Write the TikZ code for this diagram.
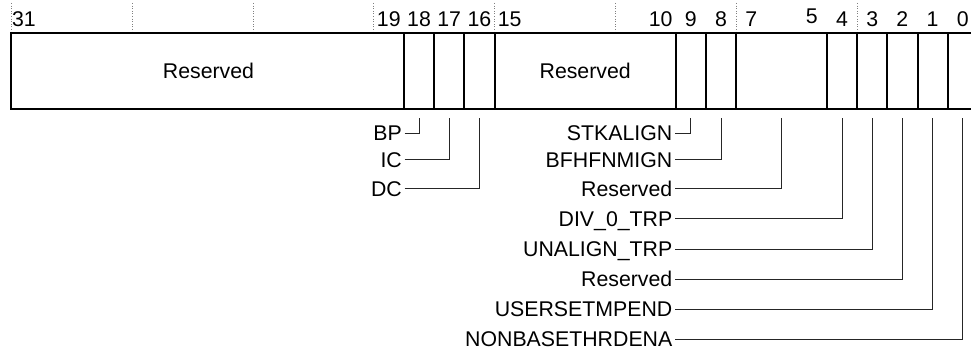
\documentclass[tikz,border=0pt]{standalone}
\usepackage{fontspec}
\setmainfont{Liberation Sans}
\begin{document}
\begin{tikzpicture}[
			x=1pt, y=1pt,
			font=\fontsize{21.3}{25}\selectfont,
			regbox/.style={line width=2pt, black},
			tick/.style={gray, dotted, line width=0.6pt},
			bitnum/.style={anchor=base, inner sep=0pt},
			fieldlabel/.style={inner sep=0pt, text height=15pt, text depth=0pt},
			flaglabel/.style={anchor=east, inner sep=2.5pt, text height=15pt, text depth=0pt},
			conn/.style={line width=1pt, black!85},
		]
		\clip (0, 0) rectangle (971, 350);

		% dotted ticks every 4 bits
		\draw[tick] (11, 347)    -- (11, 317);
		\draw[tick] (131.9, 347) -- (131.9, 317);
		\draw[tick] (252.8, 347) -- (252.8, 317);
		\draw[tick] (373.6, 347) -- (373.6, 317);
		\draw[tick] (494.5, 347) -- (494.5, 317);
		\draw[tick] (615.4, 347) -- (615.4, 317);
		\draw[tick] (736.2, 347) -- (736.2, 317);
		\draw[tick] (857.1, 347) -- (857.1, 317);

		% bit numbers
		\node[bitnum] (b31) at (24, 323)    {31};
		\node[bitnum] (b19) at (388.8, 323) {19};
		\node[bitnum] (b18) at (419, 323)   {18};
		\node[bitnum] (b17) at (449.2, 323) {17};
		\node[bitnum] (b16) at (479.4, 323) {16};
		\node[bitnum] (b15) at (509.6, 323) {15};
		\node[bitnum] (b10) at (660.7, 323) {10};
		\node[bitnum] (b9)  at (690.9, 323) {9};
		\node[bitnum] (b8)  at (721.1, 323) {8};
		\node[bitnum] (b7)  at (751.3, 323) {7};
		\node[bitnum] (b5)  at (811.8, 326) {5};
		\node[bitnum] (b4)  at (842, 323)   {4};
		\node[bitnum] (b3)  at (872.2, 323) {3};
		\node[bitnum] (b2)  at (902.4, 323) {2};
		\node[bitnum] (b1)  at (932.6, 323) {1};
		\node[bitnum] (b0)  at (962.8, 323) {0};

		% register outline and field dividers
		\draw[regbox] (980, 317) -- (11, 317) -- (11, 241) -- (980, 241);
		\draw[regbox] (403.9, 317) -- (403.9, 241);
		\draw[regbox] (434.1, 317) -- (434.1, 241);
		\draw[regbox] (464.3, 317) -- (464.3, 241);
		\draw[regbox] (494.5, 317) -- (494.5, 241);
		\draw[regbox] (675.8, 317) -- (675.8, 241);
		\draw[regbox] (706, 317)   -- (706, 241);
		\draw[regbox] (736.2, 317) -- (736.2, 241);
		\draw[regbox] (826.9, 317) -- (826.9, 241);
		\draw[regbox] (857.1, 317) -- (857.1, 241);
		\draw[regbox] (887.3, 317) -- (887.3, 241);
		\draw[regbox] (917.5, 317) -- (917.5, 241);
		\draw[regbox] (947.7, 317) -- (947.7, 241);

		\node[fieldlabel] (res31) at (208.5, 279) {Reserved};
		\node[fieldlabel] (res15) at (585.2, 279) {Reserved};

		% connector tops below the register
		\coordinate (t18) at (419, 232);
		\coordinate (t17) at (449.2, 232);
		\coordinate (t16) at (479.4, 232);
		\coordinate (t9)  at (690.9, 232);
		\coordinate (t8)  at (721.1, 232);
		\coordinate (t7)  at (781.5, 232);
		\coordinate (t4)  at (842, 232);
		\coordinate (t3)  at (872.2, 232);
		\coordinate (t2)  at (902.4, 232);
		\coordinate (t1)  at (932.6, 232);
		\coordinate (t0)  at (962.8, 232);

		% flag names
		\node[flaglabel] (bp) at (404.5, 216.7) {BP};
		\node[flaglabel] (ic) at (404.5, 190)   {IC};
		\node[flaglabel] (dc) at (404.5, 161)   {DC};
		\node[flaglabel] (stkalign)  at (675, 216.7) {STKALIGN};
		\node[flaglabel] (bfhfnmign) at (675, 190)   {BFHFNMIGN};
		\node[flaglabel] (res7)      at (675, 161)   {Reserved};
		\node[flaglabel] (div0)      at (675, 131)   {DIV\_0\_TRP};
		\node[flaglabel] (unalign)   at (675, 100.7) {UNALIGN\_TRP};
		\node[flaglabel] (res2)      at (675, 70.7)  {Reserved};
		\node[flaglabel] (usersetm)  at (675, 40.7)  {USERSETMPEND};
		\node[flaglabel] (nonbase)   at (675, 10.7)  {NONBASETHRDENA};

		\draw[conn] (bp.east) -| (t18);
		\draw[conn] (ic.east) -| (t17);
		\draw[conn] (dc.east) -| (t16);
		\draw[conn] (stkalign.east) -| (t9);
		\draw[conn] (bfhfnmign.east) -| (t8);
		\draw[conn] (res7.east) -| (t7);
		\draw[conn] (div0.east) -| (t4);
		\draw[conn] (unalign.east) -| (t3);
		\draw[conn] (res2.east) -| (t2);
		\draw[conn] (usersetm.east) -| (t1);
		\draw[conn] (nonbase.east) -| (t0);
	\end{tikzpicture}
\end{document}
